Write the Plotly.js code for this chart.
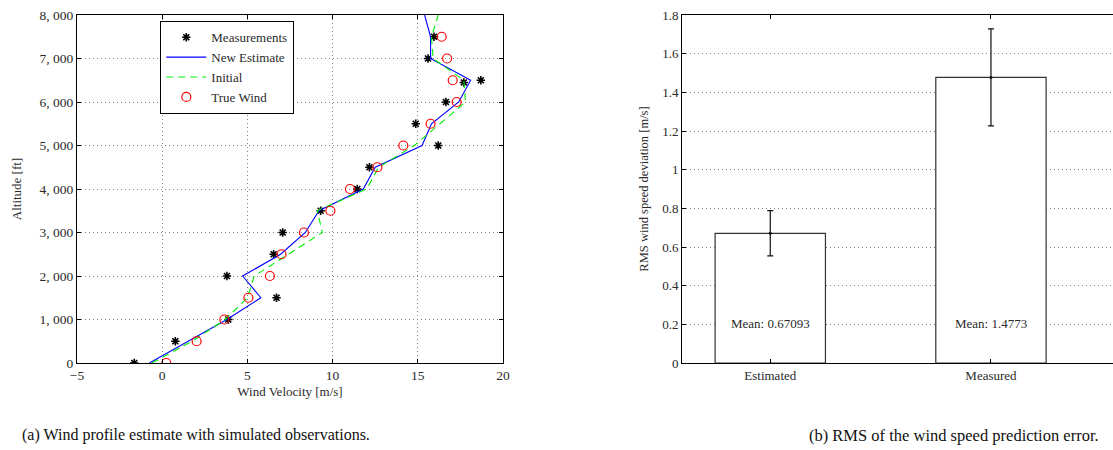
<!DOCTYPE html>
<html>
<head>
<meta charset="utf-8">
<script src="https://cdn.plot.ly/plotly-3.0.1.min.js"></script>
<style>
html,body{margin:0;padding:0;background:#fff;overflow:hidden;}
#chart{width:1113px;height:450px;}
</style>
</head>
<body>
<div id="chart"></div>
<script>
// ---- Data: wind profile (left panel) ----
const measAlt = [0, 500, 1000, 1500, 2000, 2500, 3000, 3500, 4000, 4500, 5000, 5500, 6000, 6450, 6500, 7000, 7500];
const measVel = [-1.64, 0.77, 3.88, 6.71, 3.80, 6.54, 7.07, 9.30, 11.45, 12.16, 16.20, 14.88, 16.65, 17.70, 18.70, 15.60, 15.95];

const trueAlt = [0, 500, 1000, 1500, 2000, 2500, 3000, 3500, 4000, 4500, 5000, 5500, 6000, 6500, 7000, 7500];
const trueVel = [0.24, 2.02, 3.65, 5.06, 6.32, 7.00, 8.32, 9.87, 11.02, 12.63, 14.15, 15.75, 17.28, 17.05, 16.72, 16.40];

const estAlt = [0, 500, 1000, 1500, 2000, 2500, 3000, 3500, 4000, 4500, 5000, 5500, 6000, 6500, 7000, 7500, 8000];
const newEstimate = [-0.75, 1.55, 3.80, 5.79, 4.72, 6.95, 8.40, 9.20, 11.80, 12.50, 15.25, 15.80, 17.40, 18.10, 15.75, 15.75, 15.40];
const initialEst = [-0.60, 1.75, 3.70, 5.00, 5.40, 7.40, 9.40, 9.10, 12.00, 12.70, 14.80, 16.30, 17.80, 17.70, 15.90, 15.80, 16.20];

const altTicks = [0, 1000, 2000, 3000, 4000, 5000, 6000, 7000, 8000];
const altTickText = ['0', '1, 000', '2, 000', '3, 000', '4, 000', '5, 000', '6, 000', '7, 000', '8, 000'];
const velTicks = [-5, 0, 5, 10, 15, 20];

// ---- Data: RMS error (right panel) ----
const rmsCategories = ['Estimated', 'Measured'];
const rmsMean = [0.67093, 1.4773];
const rmsStd = [0.117, 0.251];
const rmsTicks = [0, 0.2, 0.4, 0.6, 0.8, 1, 1.2, 1.4, 1.6, 1.8];
const rmsTickText = ['0', '0.2', '0.4', '0.6', '0.8', '1', '1.2', '1.4', '1.6', '1.8'];

const FONT = 'Liberation Serif';
const TXT = '#2a2a2a';
const catX = rmsCategories.map((c, i) => i + 1);

const traces = [
  {x: measVel, y: measAlt, type: 'scatter', mode: 'markers', name: 'Measurements',
   marker: {symbol: 'asterisk-open', size: 7, color: '#000', line: {color: '#000', width: 1.6}},
   xaxis: 'x', yaxis: 'y'},
  {x: newEstimate, y: estAlt, type: 'scatter', mode: 'lines', name: 'New Estimate',
   line: {color: '#0000ff', width: 1.1}, xaxis: 'x', yaxis: 'y'},
  {x: initialEst, y: estAlt, type: 'scatter', mode: 'lines', name: 'Initial',
   line: {color: '#00ee00', width: 1.1, dash: '7px,5px'}, xaxis: 'x', yaxis: 'y'},
  {x: trueVel, y: trueAlt, type: 'scatter', mode: 'markers', name: 'True Wind',
   marker: {symbol: 'circle-open', size: 9, color: '#ff0000', line: {color: '#ff0000', width: 1.2}},
   xaxis: 'x', yaxis: 'y'},
  {x: catX, y: rmsMean, type: 'bar', width: 0.5, showlegend: false,
   marker: {color: '#ffffff', line: {color: '#333', width: 1.2}},
   error_y: {type: 'data', array: rmsStd, visible: true, color: '#111', thickness: 1.2, width: 3},
   xaxis: 'x2', yaxis: 'y2', hoverinfo: 'skip'},
  {x: catX, y: rmsMean, type: 'scatter', mode: 'markers', showlegend: false,
   marker: {size: 3, color: '#111'}, xaxis: 'x2', yaxis: 'y2', hoverinfo: 'skip'}
];

const annotations = rmsMean.map((m, i) => ({
  x: catX[i], y: 0.2065, xref: 'x2', yref: 'y2', text: 'Mean: ' + m, showarrow: false,
  xanchor: 'center', font: {family: FONT, size: 13, color: TXT}
}));
annotations.push({x: 196 / 1113, y: 1 - 435 / 450, xref: 'paper', yref: 'paper', showarrow: false,
  xanchor: 'center', yanchor: 'middle',
  text: '(a) Wind profile estimate with simulated observations.', font: {family: FONT, size: 16, color: '#111'}});
annotations.push({x: 954 / 1113, y: 1 - 435 / 450, xref: 'paper', yref: 'paper', showarrow: false,
  xanchor: 'center', yanchor: 'middle',
  text: '(b) RMS of the wind speed prediction error.', font: {family: FONT, size: 16.5, color: '#111'}});

const axisCommon = {
  showline: true, linecolor: '#000', linewidth: 1, mirror: 'ticks', ticks: 'inside', ticklen: 4,
  tickcolor: '#000', zeroline: false, showgrid: true, gridcolor: '#808080', griddash: '1px,3px', gridwidth: 1,
  tickfont: {family: FONT, size: 13.5, color: TXT}, automargin: false
};

const layout = {
  width: 1113, height: 450,
  margin: {l: 0, r: 0, t: 0, b: 0},
  paper_bgcolor: '#fff', plot_bgcolor: '#fff',
  font: {family: FONT, color: TXT},
  showlegend: true,
  legend: {x: 160 / 1113, y: 1 - 21 / 450, xanchor: 'left', yanchor: 'top',
    bgcolor: '#fff', bordercolor: '#000', borderwidth: 1.3, itemwidth: 40,
    font: {family: FONT, size: 13, color: TXT}, tracegroupgap: 0},
  xaxis: Object.assign({}, axisCommon, {
    domain: [77 / 1113, 503 / 1113], range: [-5, 20], tickvals: velTicks,
    title: {text: 'Wind Velocity [m/s]', font: {family: FONT, size: 13, color: TXT}, standoff: 4},
    anchor: 'y'
  }),
  yaxis: Object.assign({}, axisCommon, {
    domain: [1 - 363 / 450, 1 - 15 / 450], range: [0, 8000], tickvals: altTicks, ticktext: altTickText,
    title: {text: 'Altitude [ft]', font: {family: FONT, size: 13, color: TXT}, standoff: 14},
    anchor: 'x'
  }),
  xaxis2: Object.assign({}, axisCommon, {
    domain: [682 / 1113, 1], range: [0.6, 2.553], tickvals: catX, ticktext: rmsCategories,
    showgrid: false, anchor: 'y2', tickfont: {family: FONT, size: 13, color: TXT}
  }),
  yaxis2: Object.assign({}, axisCommon, {
    domain: [1 - 363 / 450, 1 - 15 / 450], range: [0, 1.8], tickvals: rmsTicks, ticktext: rmsTickText,
    mirror: false, anchor: 'x2', tickfont: {family: FONT, size: 13, color: TXT},
    title: {text: 'RMS wind speed deviation [m/s]', font: {family: FONT, size: 12.5, color: TXT}, standoff: 10}
  }),
  annotations: annotations
};

Plotly.newPlot('chart', traces, layout, {displayModeBar: false, staticPlot: true});
</script>
</body>
</html>
